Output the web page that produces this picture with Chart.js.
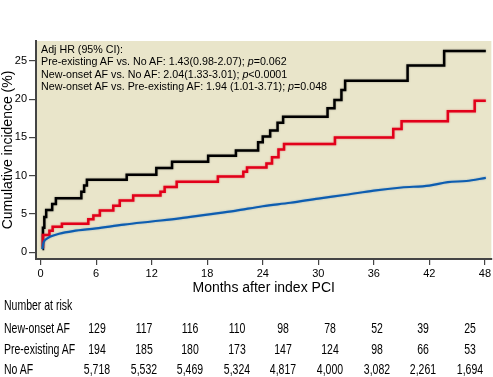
<!DOCTYPE html>
<html>
<head>
<meta charset="utf-8">
<script src="https://cdn.jsdelivr.net/npm/chart.js@4/dist/chart.umd.min.js"></script>
<style>
  body { margin: 0; background: #fff; width: 493px; height: 377px; overflow: hidden; position: relative;
         font-family: "Liberation Sans", Arial, sans-serif; }
  #wrap { position: absolute; left: 0; top: 0; width: 493px; height: 300px; }
  .note { position: absolute; left: 41px; top: 43px; font-size: 10.7px; line-height: 12.3px; color: #000; white-space: nowrap; }
  .risk { position: absolute; font-size: 15px; color: #000; white-space: nowrap;
          transform-origin: left center; transform: translateY(-50%) scaleX(0.7); }
  .risk.num { transform-origin: center center; transform: translate(-50%, -50%) scaleX(0.7); }
</style>
</head>
<body>
<div id="wrap"><canvas id="km" width="493" height="300"></canvas></div>
<div class="note" id="note"></div>
<div id="table"></div>
<script>
/* ─── KM curves: cumulative incidence after index PCI ─────────── */

const X_TICKS = [0, 6, 12, 18, 24, 30, 36, 42, 48];
const Y_TICKS = [0, 5, 10, 15, 20, 25];

// step curves: month where the step happens, value after the step
const NEW_ONSET_T = [0.2, 0.25, 0.4, 0.6, 1.25, 1.65, 4.4, 4.7, 5.0, 9.3, 12.5, 14.2, 18.1, 21.1,
                     23.5, 24.0, 24.8, 25.6, 26.2, 31.0, 31.75, 32.5, 32.9, 39.65, 43.6, 48.1];
const NEW_ONSET_Y = [0.4, 3.2, 4.6, 5.5, 6.3, 7.05, 7.9, 8.7, 9.45, 10.1, 11.0, 11.8, 12.6, 13.3,
                     14.35, 15.1, 15.9, 16.9, 17.7, 18.8, 19.9, 21.2, 22.4, 24.4, 26.3, 26.3];

const PRE_EXIST_T = [0.2, 0.25, 0.95, 1.3, 2.3, 5.15, 5.7, 6.4, 7.85, 8.55, 10.0, 12.95, 13.4, 14.7,
                     19.15, 21.9, 22.3, 24.4, 25.0, 25.7, 26.3, 31.8, 38.1, 39.0, 44.0, 46.9, 48.1];
const PRE_EXIST_Y = [0.7, 2.25, 2.8, 3.3, 3.7, 4.3, 4.8, 5.45, 6.05, 6.75, 7.4, 7.9, 8.5, 9.2,
                     9.9, 10.5, 11.05, 11.6, 12.4, 13.4, 14.15, 15.0, 16.1, 17.1, 18.4, 19.8, 19.8];

const NO_AF_T = [0.2, 0.3, 0.5, 1.0, 2.0, 3.5, 6, 9, 12, 15, 18, 21, 24, 27, 30, 33, 36, 39, 42, 44, 46, 48.1];
const NO_AF_Y = [0.4, 1.2, 1.6, 2.0, 2.4, 2.75, 3.1, 3.6, 4.0, 4.4, 4.9, 5.4, 6.0, 6.45, 7.0, 7.5,
                 8.05, 8.45, 8.7, 9.15, 9.3, 9.7];

const HR_LINES = [
  'Adj HR (95% CI):',
  'Pre-existing AF vs. No AF: 1.43(0.98-2.07); <i>p</i>=0.062',
  'New-onset AF vs. No AF: 2.04(1.33-3.01); <i>p</i>&lt;0.0001',
  'New-onset AF vs. Pre-existing AF: 1.94 (1.01-3.71); <i>p</i>=0.048'
];

const RISK_GROUPS = ['New-onset AF', 'Pre-existing AF', 'No AF'];
const RISK_NEW_ONSET = [129, 117, 116, 110, 98, 78, 52, 39, 25];
const RISK_PRE_EXIST = [194, 185, 180, 173, 147, 124, 98, 66, 53];
const RISK_NO_AF     = [5718, 5532, 5469, 5324, 4817, 4000, 3082, 2261, 1694];

const SANS = '"Liberation Sans", Arial, sans-serif';

function toXY(t, y) {
  return t.map((v, i) => ({ x: v, y: y[i] }));
}

// beige plot panel
const panelBg = {
  id: 'panelBg',
  beforeDraw(chart) {
    const { ctx, chartArea: a } = chart;
    ctx.save();
    ctx.fillStyle = '#e9e5ca';
    ctx.fillRect(a.left, a.top, a.right - a.left, a.bottom - a.top);
    ctx.restore();
  }
};

// soft halo round the curves, like the printed figure
const HALO = ['rgba(13,93,176,0.35)', 'rgba(226,0,26,0.45)', 'rgba(0,0,0,0.35)'];
const lineHalo = {
  id: 'lineHalo',
  beforeDatasetDraw(chart, args) {
    const ctx = chart.ctx;
    ctx.save();
    ctx.shadowColor = HALO[args.index];
    ctx.shadowBlur = 2;
  },
  afterDatasetDraw(chart) {
    chart.ctx.restore();
  }
};

new Chart(document.getElementById('km'), {
  type: 'line',
  data: {
    datasets: [
      {
        label: 'No AF',
        data: toXY(NO_AF_T, NO_AF_Y),
        borderColor: '#0d5db0',
        borderWidth: 2.2,
        pointRadius: 0,
        cubicInterpolationMode: 'monotone'
      },
      {
        label: 'Pre-existing AF',
        data: toXY(PRE_EXIST_T, PRE_EXIST_Y),
        borderColor: '#e2001a',
        borderWidth: 2.5,
        pointRadius: 0,
        stepped: true
      },
      {
        label: 'New-onset AF',
        data: toXY(NEW_ONSET_T, NEW_ONSET_Y),
        borderColor: '#000',
        borderWidth: 2.5,
        pointRadius: 0,
        stepped: true
      }
    ]
  },
  options: {
    responsive: false,
    animation: false,
    layout: { padding: { top: 41, right: 0, bottom: 0, left: 0 } },
    plugins: { legend: { display: false }, tooltip: { enabled: false } },
    scales: {
      x: {
        type: 'linear',
        min: -0.5,
        max: 48.7,
        afterBuildTicks: s => { s.ticks = X_TICKS.map(v => ({ value: v })); },
        afterFit: s => { s.height = 41; },
        grid: { drawOnChartArea: false, drawTicks: true, tickLength: 6, color: '#444', lineWidth: 1.2 },
        border: { color: '#444', width: 2 },
        ticks: { color: '#000', font: { family: SANS, size: 11 }, padding: 2, maxRotation: 0 },
        title: { display: true, text: 'Months after index PCI', color: '#000',
                 font: { family: SANS, size: 14 }, padding: { top: 0, bottom: 3 } }
      },
      y: {
        min: -0.9,
        max: 27.6,
        afterBuildTicks: s => { s.ticks = Y_TICKS.map(v => ({ value: v })); },
        afterFit: s => { s.width = 36; },
        grid: { drawOnChartArea: false, drawTicks: true, tickLength: 7, color: '#444', lineWidth: 1.2 },
        border: { color: '#444', width: 2 },
        ticks: { color: '#000', font: { family: SANS, size: 11 }, padding: 2 },
        title: { display: true, text: 'Cumulative incidence (%)', color: '#000',
                 font: { family: SANS, size: 14 }, padding: { top: 0, bottom: 0 } }
      }
    }
  },
  plugins: [panelBg, lineHalo]
});

// hazard ratio note
document.getElementById('note').innerHTML = HR_LINES.join('<br>');

// number at risk table
const table = document.getElementById('table');
const ROW_Y = [326.5, 347.5, 367.5];
const COL_X0 = 97, COL_DX = 46.6;

function addCell(text, x, y, cls) {
  const el = document.createElement('div');
  el.className = cls;
  el.textContent = text;
  el.style.left = x + 'px';
  el.style.top = y + 'px';
  table.appendChild(el);
}

addCell('Number at risk', 4, 304, 'risk');
[RISK_NEW_ONSET, RISK_PRE_EXIST, RISK_NO_AF].forEach((row, r) => {
  addCell(RISK_GROUPS[r], 4, ROW_Y[r], 'risk');
  row.forEach((n, i) => addCell(n.toLocaleString('en-US'), COL_X0 + COL_DX * i, ROW_Y[r], 'risk num'));
});
</script>
</body>
</html>
